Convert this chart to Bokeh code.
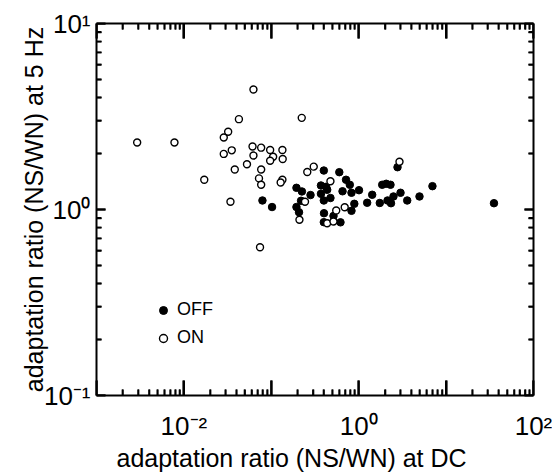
from bokeh.plotting import figure
from bokeh.models import (LogAxis, FixedTicker, Legend, LegendItem, Title)
from bokeh.embed import file_html
from bokeh.resources import INLINE

# ---- data ----
off_x = [0.0792, 0.102, 0.194, 0.224, 0.281, 0.219, 0.194, 0.2075, 0.399, 0.600,
         0.370, 0.423, 0.436, 0.370, 0.399, 0.475, 0.401, 0.399, 0.515, 0.619,
         0.716, 0.791, 0.653, 0.827, 1.008, 0.891, 0.827, 1.25, 1.427, 1.743,
         1.858, 2.064, 2.311, 2.136, 2.342, 2.50, 3.01, 3.59, 4.96, 6.98,
         2.78, 35.3]
off_y = [1.118, 1.031, 1.308, 1.25, 1.196, 1.114, 1.031, 0.967, 1.62, 1.587,
         1.346, 1.324, 1.276, 1.214, 1.118, 1.153, 0.955, 0.855, 0.923, 0.853,
         1.445, 1.358, 1.253, 1.230, 1.270, 1.073, 0.984, 1.087, 1.20, 1.084,
         1.358, 1.375, 1.358, 1.118, 1.081, 1.175, 1.230, 1.118, 1.175, 1.335,
         1.688, 1.081]

on_x = [0.00292, 0.0078, 0.0625, 0.0426, 0.223, 0.0321, 0.0286, 0.0286, 0.0353, 0.0610,
        0.0766, 0.0625, 0.0970, 0.134, 0.105, 0.0970, 0.135, 0.0527, 0.0382, 0.0766,
        0.0171, 0.0723, 0.0766, 0.134, 0.128, 0.306, 0.258, 0.0341, 0.0743, 0.243,
        0.210, 0.475, 0.553, 0.692, 0.436, 0.515, 2.93]
on_y = [2.29, 2.29, 4.42, 3.06, 3.11, 2.62, 2.44, 1.99, 2.08, 2.18,
        2.15, 1.95, 2.09, 2.09, 1.92, 1.83, 1.87, 1.75, 1.64, 1.64,
        1.445, 1.47, 1.358, 1.446, 1.397, 1.70, 1.59, 1.10, 0.627, 1.10,
        0.881, 1.418, 0.988, 1.029, 0.844, 0.862, 1.807]

x_ticks = [1e-3, 1e-2, 1e-1, 1e0, 1e1, 1e2]
x_tick_labels = ["", "10\u207b\u00b2", "", "10\u2070", "", "10\u00b2"]
y_ticks = [1e-1, 1e0, 1e1]
y_tick_labels = ["10\u207b\u00b9", "10\u2070", "10\u00b9"]

x_title = "adaptation ratio (NS/WN) at DC"
y_title = "adaptation ratio (NS/WN) at 5 Hz"
series_names = ["OFF", "ON"]

FONT = "Liberation Sans"
FRAME_W, FRAME_H = 437, 372


def minor_for(ticks):
    out = []
    for t in ticks[:-1]:
        for m in range(2, 10):
            out.append(t * m)
    return out


p = figure(frame_width=FRAME_W, frame_height=FRAME_H, x_axis_type="log", y_axis_type="log",
           x_range=(x_ticks[0], x_ticks[-1]), y_range=(y_ticks[0], y_ticks[-1]),
           output_backend="svg", toolbar_location=None,
           min_border_left=96, min_border_right=19, min_border_top=23,
           min_border_bottom=78)
p.outline_line_color = None
p.grid.visible = False
p.background_fill_color = "white"
p.border_fill_color = "white"

X_MAJ, X_MIN, Y_MAJ, Y_MIN = 15, 6, 9, 5


def style_axis(ax, ticks, labels, show, maj, mnr):
    ax.ticker = FixedTicker(ticks=ticks, minor_ticks=minor_for(ticks))
    ax.axis_line_width = 2
    ax.axis_line_color = "black"
    ax.major_tick_in = maj
    ax.major_tick_out = 0
    ax.minor_tick_in = mnr
    ax.minor_tick_out = 0
    ax.major_tick_line_width = 2
    ax.minor_tick_line_width = 1.6
    ax.major_tick_line_color = "black"
    ax.minor_tick_line_color = "black"
    ax.major_label_text_font = FONT
    ax.major_label_text_color = "black"
    if show:
        ax.major_label_overrides = {t: l for t, l in zip(ticks, labels)}
        ax.major_label_text_font_size = "26px"
    else:
        ax.major_label_overrides = {t: "" for t in ticks}
        ax.major_label_text_font_size = "1px"
        ax.major_label_standoff = 0


xa = p.xaxis[0]
ya = p.yaxis[0]
style_axis(xa, x_ticks, x_tick_labels, True, X_MAJ, X_MIN)
style_axis(ya, y_ticks, y_tick_labels, True, Y_MAJ, Y_MIN)
xa.major_label_standoff = 15
ya.major_label_standoff = 6

ya.axis_label = y_title
ya.axis_label_text_font = FONT
ya.axis_label_text_font_size = "25px"
ya.axis_label_text_font_style = "normal"
ya.axis_label_text_color = "black"
ya.axis_label_standoff = -7

top = LogAxis()
style_axis(top, x_ticks, x_tick_labels, False, X_MAJ, X_MIN)
p.add_layout(top, "above")
right = LogAxis()
style_axis(right, y_ticks, y_tick_labels, False, Y_MAJ, Y_MIN)
p.add_layout(right, "right")

# inward tick marks along the four frame edges, drawn as short segments
ppd_x = FRAME_W / (len(x_ticks) - 1)   # px per decade on x
ppd_y = FRAME_H / (len(y_ticks) - 1)   # px per decade on y
x_minor = minor_for(x_ticks)
y_minor = minor_for(y_ticks)


def tick_set(xs, length, width):
    f = 10 ** (length / ppd_y)
    b = y_ticks[0]
    t = y_ticks[-1]
    p.segment(x0=xs, y0=[b] * len(xs), x1=xs, y1=[b * f] * len(xs),
              line_color="black", line_width=width)
    p.segment(x0=xs, y0=[t] * len(xs), x1=xs, y1=[t / f] * len(xs),
              line_color="black", line_width=width)


def ytick_set(ys, length, width):
    f = 10 ** (length / ppd_x)
    l = x_ticks[0]
    r = x_ticks[-1]
    p.segment(x0=[l] * len(ys), y0=ys, x1=[l * f] * len(ys), y1=ys,
              line_color="black", line_width=width)
    p.segment(x0=[r] * len(ys), y0=ys, x1=[r / f] * len(ys), y1=ys,
              line_color="black", line_width=width)


tick_set(x_ticks, X_MAJ, 2.2)
tick_set(x_minor, X_MIN, 1.8)
ytick_set(y_ticks, Y_MAJ, 2.2)
ytick_set(y_minor, Y_MIN, 1.8)

r_off = p.scatter(off_x, off_y, size=7.5, marker="circle", fill_color="black",
                  line_color="black", line_width=1)
r_on = p.scatter(on_x, on_y, size=7, marker="circle", fill_color="white",
                 line_color="black", line_width=1.4)

legend = Legend(items=[LegendItem(label=series_names[0], renderers=[r_off]),
                       LegendItem(label=series_names[1], renderers=[r_on])],
                location=(57, 47), glyph_width=20, glyph_height=20,
                label_height=20, spacing=7, padding=0, margin=0,
                label_standoff=4, border_line_alpha=0, background_fill_alpha=0,
                label_text_font=FONT, label_text_font_size="18px",
                label_text_color="black")
p.add_layout(legend)

p.add_layout(Title(text=x_title, align="left", offset=20, standoff=-4,
                   text_font=FONT, text_font_size="25px", text_font_style="normal",
                   text_color="black"), "below")

open("out.html", "w").write(file_html(p, INLINE))
